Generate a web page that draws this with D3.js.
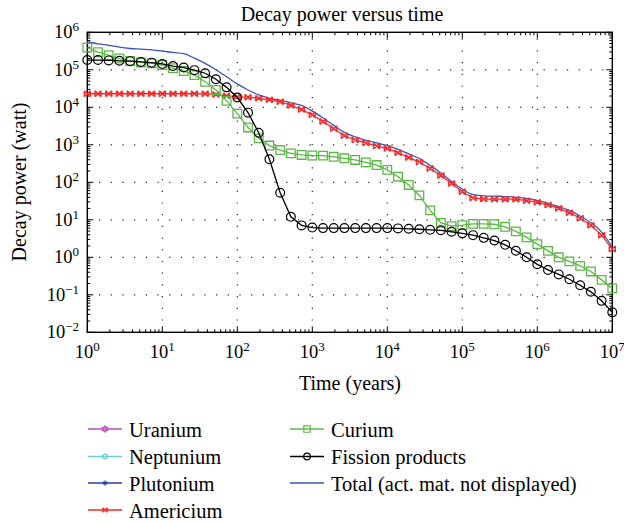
<!DOCTYPE html>
<html>
<head>
<meta charset="utf-8">
<title>Decay power versus time</title>
<script src="https://d3js.org/d3.v7.min.js"></script>
<style>
  body { margin: 0; background: #fff; }
  text { font-family: "Liberation Serif", "Times New Roman", serif; fill: #000; }
</style>
</head>
<body>
<svg width="624" height="522"></svg>
<script>
// time points (years), 7 per decade
var years = [1, 1.39, 1.93, 2.68, 3.73, 5.18, 7.2,
  10, 13.9, 19.3, 26.8, 37.3, 51.8, 72,
  100, 139, 193, 268, 373, 518, 720,
  1e3, 1.39e3, 1.93e3, 2.68e3, 3.73e3, 5.18e3, 7.2e3,
  1e4, 1.39e4, 1.93e4, 2.68e4, 3.73e4, 5.18e4, 7.2e4,
  1e5, 1.39e5, 1.93e5, 2.68e5, 3.73e5, 5.18e5, 7.2e5,
  1e6, 1.39e6, 1.93e6, 2.68e6, 3.73e6, 5.18e6, 7.2e6,
  1e7];

// decay power (watt)
var americium = [2.3e4, 2.3e4, 2.3e4, 2.3e4, 2.3e4, 2.3e4, 2.3e4,
  2.3e4, 2.3e4, 2.3e4, 2.3e4, 2.29e4, 2.19e4, 2.04e4,
  1.9e4, 1.86e4, 1.74e4, 1.58e4, 1.41e4, 1.12e4, 8.7e3,
  6.3e3, 4.2e3, 2.7e3, 1.74e3, 1.35e3, 1.12e3, 933,
  794, 617, 457, 347, 234, 151, 93,
  56, 38, 35.9, 35.5, 35.5, 35.5, 32.4,
  29.5, 24.8, 20.4, 15.5, 11.0, 7.2, 3.9,
  1.66];

var curium = [3.9e5, 2.95e5, 2.45e5, 2.0e5, 1.72e5, 1.57e5, 1.48e5,
  1.34e5, 1.10e5, 9.3e4, 7.2e4, 4.8e4, 2.9e4, 1.48e4,
  6.8e3, 2.9e3, 1.48e3, 955, 725, 590, 537,
  519, 513, 479, 437, 394, 339, 288,
  214, 141, 85, 44.7, 17.8, 8.3, 6.8,
  7.2, 7.8, 7.8, 7.6, 6.5, 4.9, 3.4,
  2.24, 1.48, 1.0, 0.78, 0.59, 0.42, 0.25,
  0.148];

var fission = [1.82e5, 1.82e5, 1.78e5, 1.74e5, 1.70e5, 1.62e5, 1.55e5,
  1.43e5, 1.26e5, 1.15e5, 9.8e4, 8.1e4, 5.6e4, 3.4e4,
  1.82e4, 7.2e3, 2.1e3, 410, 52.5, 12.0, 7.1,
  6.2, 6.0, 6.0, 6.0, 6.0, 6.0, 6.0,
  6.0, 5.9, 5.75, 5.6, 5.4, 5.25, 4.8,
  4.35, 3.9, 3.3, 2.8, 2.15, 1.5, 1.0,
  0.65, 0.46, 0.35, 0.26, 0.18, 0.12, 0.069,
  0.034];

var total = [5.6e5, 4.9e5, 4.5e5, 4.0e5, 3.7e5, 3.55e5, 3.4e5,
  3.16e5, 2.9e5, 2.7e5, 2.04e5, 1.48e5, 1.0e5, 6.5e4,
  4.2e4, 2.9e4, 2.14e4, 1.74e4, 1.55e4, 1.32e4, 1.12e4,
  7.9e3, 5.2e3, 3.3e3, 2.14e3, 1.62e3, 1.32e3, 1.12e3,
  955, 759, 575, 427, 282, 178, 105,
  66, 47, 43.7, 42.7, 41.7, 39.8, 37.2,
  33.1, 27.5, 22.4, 17.8, 12.6, 8.3, 4.7,
  1.86];

var legendNames = ["Uranium", "Neptunium", "Plutonium", "Americium",
  "Curium", "Fission products", "Total (act. mat. not displayed)"];
var xTicks = [1, 10, 100, 1e3, 1e4, 1e5, 1e6, 1e7];
var yTicks = [1e-2, 1e-1, 1, 10, 100, 1e3, 1e4, 1e5, 1e6];

var svg = d3.select("svg");
var pLeft = 87.3, pRight = 612.3, pTop = 32.3, pBottom = 332.3;

var x = d3.scaleLog().domain([1, 1e7]).range([pLeft, pRight]);
var y = d3.scaleLog().domain([1e-2, 1e6]).range([pBottom, pTop]);

// dotted grid
var grid = svg.append("g").attr("stroke", "#222").attr("stroke-width", 1.2)
  .attr("stroke-dasharray", "1.2,10.5");
grid.selectAll(".vg").data(xTicks.slice(1, -1)).enter().append("line")
  .attr("x1", function(d) { return x(d); }).attr("x2", function(d) { return x(d); })
  .attr("y1", pBottom).attr("y2", pTop);
grid.selectAll(".hg").data(yTicks.slice(1, -1)).enter().append("line")
  .attr("y1", function(d) { return y(d); }).attr("y2", function(d) { return y(d); })
  .attr("x1", pLeft).attr("x2", pRight);

// minor + major ticks, inward on all four sides
function minors(lo, hi) {
  var out = [];
  for (var e = lo; e < hi; e++)
    for (var k = 2; k <= 9; k++) out.push(k * Math.pow(10, e));
  return out;
}
var tk = svg.append("g").attr("stroke", "#000").attr("stroke-width", 1);
minors(0, 7).forEach(function(v) {
  tk.append("line").attr("x1", x(v)).attr("x2", x(v)).attr("y1", pBottom).attr("y2", pBottom - 3);
  tk.append("line").attr("x1", x(v)).attr("x2", x(v)).attr("y1", pTop).attr("y2", pTop + 3);
});
xTicks.forEach(function(v) {
  tk.append("line").attr("x1", x(v)).attr("x2", x(v)).attr("y1", pBottom).attr("y2", pBottom - 6);
  tk.append("line").attr("x1", x(v)).attr("x2", x(v)).attr("y1", pTop).attr("y2", pTop + 6);
});
minors(-2, 6).forEach(function(v) {
  tk.append("line").attr("y1", y(v)).attr("y2", y(v)).attr("x1", pLeft).attr("x2", pLeft + 3);
  tk.append("line").attr("y1", y(v)).attr("y2", y(v)).attr("x1", pRight).attr("x2", pRight - 3);
});
yTicks.forEach(function(v) {
  tk.append("line").attr("y1", y(v)).attr("y2", y(v)).attr("x1", pLeft).attr("x2", pLeft + 6);
  tk.append("line").attr("y1", y(v)).attr("y2", y(v)).attr("x1", pRight).attr("x2", pRight - 6);
});

// frame
svg.append("rect").attr("x", pLeft).attr("y", pTop)
  .attr("width", pRight - pLeft).attr("height", pBottom - pTop)
  .attr("fill", "none").attr("stroke", "#000").attr("stroke-width", 1.4);

// tick labels 10^n
function expLabel(sel, v) {
  var e = Math.round(Math.log10(v));
  sel.append("tspan").text("10");
  sel.append("tspan").attr("dy", -7).attr("font-size", 13).text(e < 0 ? "\u2212" + (-e) : e);
}
xTicks.forEach(function(v) {
  var t = svg.append("text").attr("x", x(v)).attr("y", 358)
    .attr("text-anchor", "middle").attr("font-size", 18.5);
  expLabel(t, v);
});
yTicks.forEach(function(v) {
  var t = svg.append("text").attr("x", 79).attr("y", y(v) + 6)
    .attr("text-anchor", "end").attr("font-size", 18.5);
  expLabel(t, v);
});

// titles
svg.append("text").attr("x", 342).attr("y", 21).attr("text-anchor", "middle")
  .attr("font-size", 20).text("Decay power versus time");
svg.append("text").attr("x", 350).attr("y", 390).attr("text-anchor", "middle")
  .attr("font-size", 20).text("Time (years)");
svg.append("text").attr("transform", "translate(26,182) rotate(-90)")
  .attr("text-anchor", "middle").attr("font-size", 20).text("Decay power (watt)");

// markers
var colors = ["#b450b4", "#6ccfd6", "#2a3f9f", "#f52a2a", "#5cb846", "#000000", "#3a55b5"];
var markerPaths = {
  hexagram: "M0,-4.2L1.2,-2.1L3.6,-2.1L2.4,0L3.6,2.1L1.2,2.1L0,4.2L-1.2,2.1L-3.6,2.1L-2.4,0L-3.6,-2.1L-1.2,-2.1Z",
  hexagon: "M0,-3.5L3,-1.75L3,1.75L0,3.5L-3,1.75L-3,-1.75Z",
  asterisk: "M0,-3.5V3.5M-3,-1.75L3,1.75M-3,1.75L3,-1.75",
  bowtie: "M-3,-3L3,3M-3,3L3,-3M-3,-3V3M3,-3V3",
  square: "M-4.3,-4.3H4.3V4.3H-4.3Z",
  circle: "M4.4,0A4.4,4.4 0 1,1 -4.4,0A4.4,4.4 0 1,1 4.4,0Z"
};
var markerOf = ["hexagram", "hexagon", "asterisk", "bowtie", "square", "circle", null];

var line = d3.line().x(function(d) { return x(d[0]); }).y(function(d) { return y(d[1]); });
var smooth = d3.line().curve(d3.curveMonotoneX)
  .x(function(d) { return x(d[0]); }).y(function(d) { return y(d[1]); });

function pairs(vals) { return years.map(function(t, i) { return [t, vals[i]]; }); }

// total (no markers)
svg.append("path").datum(pairs(total)).attr("d", smooth)
  .attr("fill", "none").attr("stroke", colors[6]).attr("stroke-width", 1.3);

function drawSeries(vals, idx, sw) {
  var g = svg.append("g");
  g.append("path").datum(pairs(vals)).attr("d", line)
    .attr("fill", "none").attr("stroke", colors[idx]).attr("stroke-width", 1.3);
  g.selectAll(".m").data(pairs(vals)).enter().append("path")
    .attr("transform", function(d) { return "translate(" + x(d[0]) + "," + y(d[1]) + ")"; })
    .attr("d", markerPaths[markerOf[idx]])
    .attr("fill", "none").attr("stroke", colors[idx]).attr("stroke-width", sw);
}
drawSeries(americium, 3, 1.4);
drawSeries(curium, 4, 1.3);
drawSeries(fission, 5, 1.2);

// legend
var legendPos = [[88, 429], [88, 456.5], [88, 483], [88, 510], [290, 429], [290, 456.5], [290, 483]];
legendNames.forEach(function(name, i) {
  var p = legendPos[i];
  svg.append("line").attr("x1", p[0]).attr("x2", p[0] + 34).attr("y1", p[1]).attr("y2", p[1])
    .attr("stroke", colors[i]).attr("stroke-width", 1.3);
  if (markerOf[i]) {
    svg.append("path").attr("transform", "translate(" + (p[0] + 17) + "," + p[1] + ") scale(0.75)")
      .attr("d", markerPaths[markerOf[i]])
      .attr("fill", "none").attr("stroke", colors[i]).attr("stroke-width", 1.6);
  }
  svg.append("text").attr("x", p[0] + 41).attr("y", p[1] + 7.5)
    .attr("font-size", 20.5).text(name);
});
</script>
</body>
</html>
